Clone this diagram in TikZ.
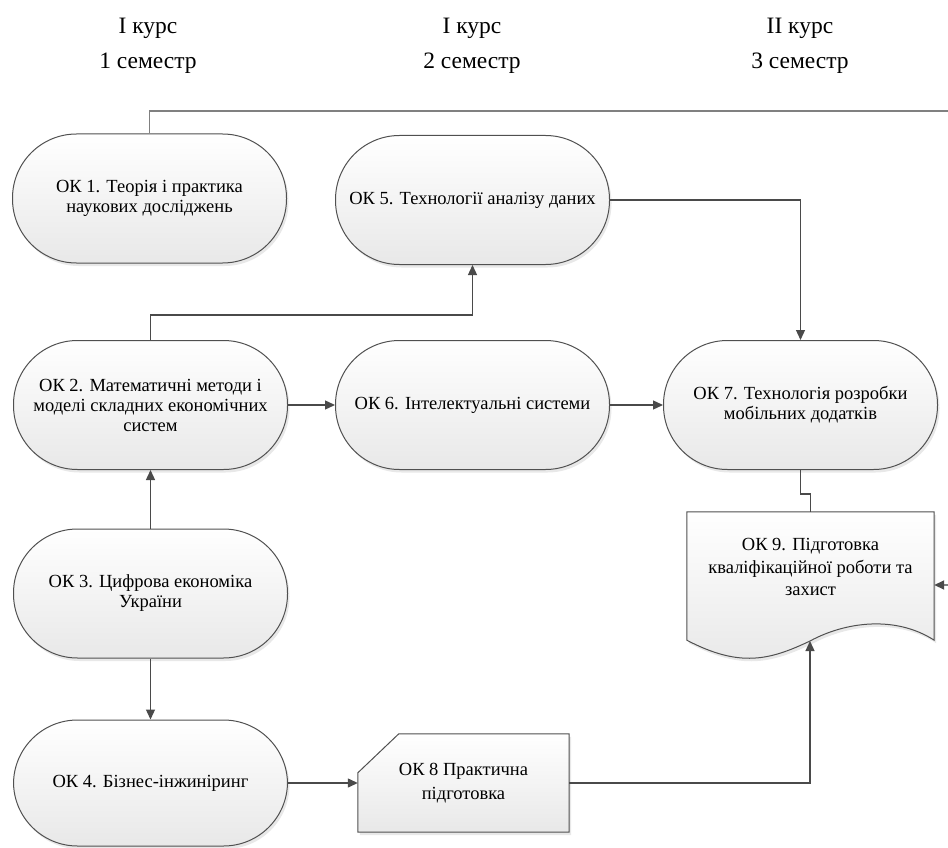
\documentclass[tikz,border=0pt]{standalone}
\usepackage{fontspec}
\setmainfont{Liberation Serif}
\usetikzlibrary{arrows.meta,shadows,calc}
\pgfdeclarelayer{bg}
\pgfsetlayers{bg,main}
\definecolor{edge}{HTML}{4A4A4A}
\definecolor{shapeline}{HTML}{505050}
\tikzset{
  stadium/.style={draw=shapeline, line width=1pt, rounded corners=64pt,
    top color=white, bottom color=black!9,
    drop shadow={opacity=0.18, shadow xshift=2pt, shadow yshift=-3pt},
    minimum width=274pt, minimum height=129pt, align=center,
    font=\fontsize{18.5}{20}\selectfont, inner sep=0pt},
  plainbox/.style={minimum width=211pt, minimum height=98pt, align=center,
    font=\fontsize{18.5}{24}\selectfont, inner sep=0pt},
  bgshape/.style={draw=shapeline, line width=1pt,
    top color=white, bottom color=black!9,
    drop shadow={opacity=0.18, shadow xshift=2pt, shadow yshift=-3pt}},
  conn/.style={draw=edge, line width=1.3pt,
    -{Triangle[length=10pt,width=9pt]}},
  longconn/.style={draw=black!50, line width=1.8pt,
    -{Triangle[length=10pt,width=9pt,color=edge]}},
  plainconn/.style={draw=edge, line width=1.3pt},
  hdr/.style={font=\fontsize{23.5}{35}\selectfont, align=center, inner sep=0pt}
}
\begin{document}
\begin{tikzpicture}[x=1pt,y=-1pt]
\useasboundingbox (0,0) rectangle (948,848);
% headers
\node[hdr] (h1) at (148,46) {І курс\\1 семестр};
\node[hdr] (h2) at (472,46) {І курс\\2 семестр};
\node[hdr] (h3) at (800,46) {ІІ курс\\3 семестр};
% stadium nodes
\node[stadium] (ok1) at (149.5,198.5) {ОК 1. Теорія і практика\\наукових досліджень};
\node[stadium] (ok5) at (472.5,200) {ОК 5. Технології аналізу даних};
\node[stadium] (ok2) at (150.5,405) {ОК 2. Математичні методи і\\моделі складних економічних\\систем};
\node[stadium] (ok6) at (472.5,405) {ОК 6. Інтелектуальні системи};
\node[stadium] (ok7) at (800.5,405) {ОК 7. Технологія розробки\\мобільних додатків};
\node[stadium] (ok3) at (150.5,593.5) {ОК 3. Цифрова економіка\\України};
\node[stadium, minimum height=126pt] (ok4) at (150.5,783) {ОК 4. Бізнес-інжиніринг};
% OK8 card
\node[plainbox] (ok8) at (463.5,783) {ОК 8 Практична\\підготовка};
% OK9 document
\node[minimum width=247pt, minimum height=128pt, inner sep=0pt,
  label={[align=center, font=\fontsize{18.5}{22.5}\selectfont, yshift=9pt]center:{ОК 9. Підготовка\\кваліфікаційної роботи та\\захист}}] (ok9) at (810.5,576) {};
\coordinate (ok9b) at (810,641);
\begin{pgfonlayer}{bg}
  \path[bgshape] ($(ok8.north west)+(0,39)$) -- ($(ok8.north west)+(41,0)$)
    -- (ok8.north east) -- (ok8.south east) -- (ok8.south west) -- cycle;
  \path[bgshape] (ok9.north west) -- (ok9.north east) -- (ok9.south east)
    .. controls (895,615) and (845,622) .. (810,641)
    .. controls (770,660) and (740,668) .. (ok9.south west) -- cycle;
\end{pgfonlayer}
% connectors
\draw[longconn] (ok1.north) |- (960,111) |- ($(ok9.east)+(0,9)$);
\draw[conn] (ok2.north) -- ++(0,-25) -| (ok5.south);
\draw[conn] (ok5.east) -| (ok7.north);
\draw[conn] (ok2.east) -- (ok6.west);
\draw[conn] (ok6.east) -- (ok7.west);
\draw[plainconn] (ok7.south) -- ++(0,24) -| (ok9.north);
\draw[conn] (ok3.north) -- (ok2.south);
\draw[conn] (ok3.south) -- (ok4.north);
\draw[conn] (ok4.east) -- (ok8.west);
\draw[conn] (ok8.east) -| (ok9b);
\end{tikzpicture}
\end{document}
